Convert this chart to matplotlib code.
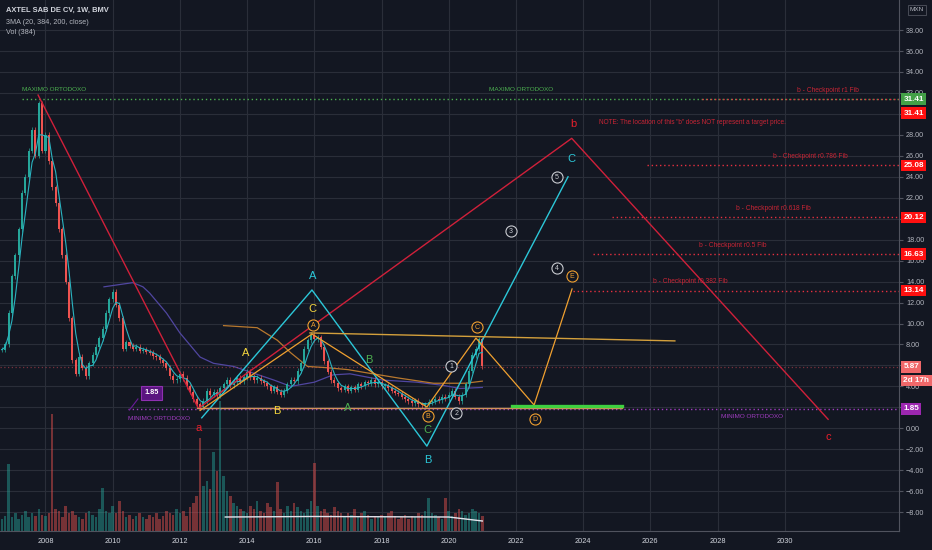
import matplotlib
matplotlib.use("Agg")
import matplotlib.pyplot as plt
import matplotlib.transforms as mtransforms
import numpy as np
import pandas as pd

plt.rcParams['font.family'] = ['Liberation Sans', 'DejaVu Sans']

# closes, one every 0.1 year from 2006.7 to 2021.0
start_year = 2006.7
closes = [
    7.5, 8.0, 11.0, 14.5, 16.5, 19.0, 22.5, 24.0, 26.5, 28.5, 26.0, 31.0, 26.5,
    28.0, 25.5, 23.0, 21.5, 19.0, 16.5, 14.0, 10.5, 6.5, 5.2,
    6.8, 5.8, 5.0, 6.2, 7.0, 7.8, 8.6, 9.5, 11.0, 12.3,
    13.0, 11.8, 10.5, 7.6, 8.2, 7.9, 7.6, 7.8, 7.4, 7.5,
    7.3, 7.2, 6.9, 6.8, 6.5, 6.2, 5.8, 5.0, 4.6, 4.7,
    5.2, 4.8, 4.0, 3.5, 2.8, 2.3, 2.0, 2.6, 3.6, 3.2,
    3.5, 3.1, 3.8, 4.2, 4.6, 4.1, 4.4, 4.8, 4.5, 4.9,
    5.4, 4.9, 4.6, 4.8, 4.5, 4.3, 4.0, 3.6, 3.9, 3.5,
    3.2, 3.6, 4.2, 4.6, 4.5, 5.5, 6.2, 7.6, 8.4, 8.9,
    8.5, 8.7, 7.8, 6.4, 5.4, 4.6, 4.3, 3.8, 3.7, 4.0,
    3.6, 3.9, 3.7, 4.2, 4.0, 4.4, 4.3, 4.6, 4.2, 4.4,
    4.0, 4.1, 3.8, 3.6, 3.4, 3.3, 3.0, 2.8, 2.6, 2.4,
    2.6, 2.3, 2.2, 2.3, 2.5, 2.6, 2.8, 2.7, 3.0, 2.9,
    3.2, 3.6, 3.0, 2.6, 3.2, 4.2, 5.5, 7.0, 7.6, 8.5,
    5.9,
]
volumes = [
    12, 15, 67, 14, 18, 12, 16, 20, 14, 18, 15, 22, 16,
    15, 18, 117, 22, 20, 14, 25, 18, 20, 16,
    14, 12, 18, 20, 16, 14, 22, 43, 20, 18,
    25, 18, 30, 20, 14, 16, 12, 15, 18, 14,
    12, 16, 14, 18, 12, 15, 20, 18, 16, 22,
    18, 20, 15, 24, 28, 35, 93, 45, 50, 42,
    79, 60, 130, 55, 40, 35, 28, 25, 22, 20,
    18, 25, 22, 30, 20, 18, 28, 24, 20, 49,
    22, 18, 25, 20, 28, 24, 20, 18, 22, 30,
    68, 25, 20, 22, 18, 16, 24, 20, 18, 15,
    18, 16, 22, 14, 18, 20, 16, 12, 15, 14,
    16, 14, 18, 20, 15, 12, 14, 16, 12, 15,
    14, 18, 16, 20, 33, 18, 16, 14, 12, 33,
    20, 15, 18, 22, 20, 16, 18, 22, 20, 18,
    15,
]

# moving averages
ma_long_years = [2009.74, 2010.6, 2010.9, 2011.1, 2011.6, 2012.0, 2012.6, 2013.0, 2013.6,
                 2014.8, 2015.3, 2016.0, 2016.56, 2017.06, 2018.04, 2019.05, 2019.83,
                 2020.34, 2021.0]
ma_long = [13.5, 13.9, 13.5, 12.9, 11.0, 9.1, 6.8, 6.2, 5.9, 4.6, 4.0, 4.4, 5.1, 5.2,
           4.6, 4.4, 4.1, 3.8, 3.9]
ma_mid_years = [2013.3, 2014.3, 2014.9, 2015.3, 2015.8, 2016.3, 2017.0, 2017.55, 2018.5,
                2019.55, 2020.5, 2021.0]
ma_mid = [9.8, 9.6, 8.4, 7.2, 5.9, 5.8, 5.6, 5.3, 4.8, 4.3, 4.3, 4.5]
vol_ma_years = [2013.35, 2016.0, 2020.0, 2021.0]
vol_ma = [14, 14.5, 14, 10]

# wave drawings (year, price)
red_wave = [(2007.78, 31.8), (2012.55, 1.9), (2023.66, 27.67), (2031.29, 0.86)]
cyan_wave = [(2012.65, 1.0), (2015.93, 13.2), (2019.35, -1.7), (2023.55, 24.0)]
orange_wave = [(2012.6, 1.7), (2015.93, 9.0), (2019.35, 2.03), (2020.81, 8.61),
               (2022.54, 2.22), (2023.67, 13.3)]
upper_trend = [(2015.87, 9.1), (2026.73, 8.34)]
lower_trend = [(2012.5, 1.94), (2025.16, 1.94)]
green_zone = [(2021.88, 2.13), (2025.16, 2.13)]

# checkpoint levels: value, line start year, label, label centre year
fib_levels = [31.41, 25.08, 20.12, 16.63, 13.14]
fib_starts = [2027.54, 2025.9, 2024.86, 2024.3, 2023.7]
fib_names = ['b - Checkpoint r1 Fib', 'b - Checkpoint r0.786 Fib', 'b - Checkpoint r0.618 Fib',
             'b - Checkpoint r0.5 Fib', 'b - Checkpoint r0.382 Fib']
fib_label_x = [2031.3, 2030.75, 2029.65, 2028.45, 2027.2]
max_level = 31.41
min_level = 1.85
last_price = 5.87

BG = '#131722'
GRID = '#2a2e39'
TXT = '#b2b5be'
UP = '#26a69a'
DOWN = '#ef5350'
RED = '#d0203a'
CYAN = '#2cc7d8'
ORANGE = '#f0a030'
YELLOW = '#f5d63d'
GREEN = '#4caf50'
PURPLE = '#a03cc0'

fig = plt.figure(figsize=(9.32, 5.5), dpi=100, facecolor=BG)
ax = fig.add_axes([0, 19 / 550, 899 / 932, 531 / 550])
ax.set_facecolor(BG)
ax.set_xlim(2006.646, 2033.40)
ax.set_ylim(-9.80, 40.87)

# volume pane (made first: twinx moves the price ticks to the left)
axv = ax.twinx()
axv.set_ylim(0, 531)
axv.axis('off')

years = start_year + 0.1 * np.arange(len(closes))
c = np.array(closes)
o = np.r_[c[0], c[:-1]]
up = c >= o

# grid and axes
ax.set_xticks(np.arange(2008, 2031, 2))
ax.set_xticklabels([str(y) for y in range(2008, 2031, 2)])
ax.set_yticks(np.arange(-8, 39, 2))
ax.set_yticklabels([f'{v:.2f}'.replace('-', '\u2212') for v in np.arange(-8, 39, 2)])
ax.grid(color=GRID, lw=0.8)
ax.yaxis.tick_right()
ax.yaxis.set_label_position('right')
ax.tick_params(axis='y', colors='#50535e', labelcolor=TXT, labelsize=5.2, length=3, pad=2)
ax.tick_params(axis='x', colors=BG, labelcolor='#d1d4dc', labelsize=5.3, length=0, pad=5)
for s in ['top', 'left']:
    ax.spines[s].set_visible(False)
for s in ['right', 'bottom']:
    ax.spines[s].set_color('#50535e')
    ax.spines[s].set_linewidth(0.8)

vol_cols = np.where(up, UP, DOWN)
axv.bar(years, volumes, width=0.075, color=vol_cols, alpha=0.45, lw=0)
axv.plot(vol_ma_years, vol_ma, color='#e0e3eb', lw=1)

# candles
ax.vlines(years, np.minimum(o, c) - 0.25, np.maximum(o, c) + 0.25, color=vol_cols, lw=0.5, zorder=3)
ax.bar(years, np.maximum(np.abs(c - o), 0.1), bottom=np.minimum(o, c), width=0.06,
       color=vol_cols, lw=0, zorder=3)
ma_fast = pd.Series(closes).rolling(4, min_periods=1).mean()
ax.plot(years, ma_fast, color='#2ab3c0', lw=0.8, zorder=4)
ax.plot(ma_long_years, ma_long, color='#5046a0', lw=0.9, zorder=2)
ax.plot(ma_mid_years, ma_mid, color='#b8782e', lw=0.9, zorder=2)

# horizontal levels
dot = (0, (1, 2))
ax.plot([2007.3, 2033.4], [max_level] * 2, color=GREEN, lw=1, ls=dot, zorder=2)
ax.plot([2010.46, 2033.4], [min_level] * 2, color=PURPLE, lw=1, ls=dot, zorder=2)
ax.axhline(last_price, color='#f7525f', lw=0.9, ls=dot, alpha=0.45, zorder=2)
for lvl, x0, name, lx in zip(fib_levels, fib_starts, fib_names, fib_label_x):
    ax.plot([x0, 2033.4], [lvl, lvl], color='#e53040', lw=1, ls=dot, zorder=2)
    ax.text(lx, lvl + 0.85, name, color='#c82535', fontsize=4.8, ha='center', va='center')

ax.text(2007.3, 32.35, 'MAXIMO ORTODOXO', color=GREEN, fontsize=4.6, ha='left', va='center')
ax.text(2021.2, 32.35, 'MAXIMO ORTODOXO', color=GREEN, fontsize=4.6, ha='left', va='center')
ax.text(2010.46, 0.9, 'MINIMO ORTODOXO', color=PURPLE, fontsize=4.6, ha='left', va='center')
ax.text(2028.1, 1.1, 'MINIMO ORTODOXO', color=PURPLE, fontsize=4.6, ha='left', va='center')
ax.text(2024.47, 29.2, 'NOTE: The location of this "b" does NOT represent a target price.',
        color='#c82535', fontsize=4.7, ha='left', va='center')

# wave lines
def path(pts, **kw):
    xs, ys = zip(*pts)
    ax.plot(xs, ys, **kw)

path(red_wave, color=RED, lw=1, zorder=5)
path(cyan_wave, color=CYAN, lw=1, zorder=5)
path(orange_wave, color=ORANGE, lw=0.9, zorder=5)
path(upper_trend, color='#d4a03c', lw=1, zorder=5)
path(lower_trend, color='#d4915a', lw=1, zorder=5)
path(green_zone, color='#3fd040', lw=2.4, zorder=5)

# wave letters
def letter(x, y, s, col, size=8):
    ax.text(x, y, s, color=col, fontsize=size, ha='center', va='center', zorder=6)

letter(2012.57, 0.0, 'a', '#e8202c')
letter(2023.7, 29.0, 'b', '#e8202c')
letter(2031.29, -0.83, 'c', '#e8202c')
letter(2015.96, 14.5, 'A', CYAN)
letter(2019.38, -3.0, 'B', CYAN)
letter(2023.64, 25.7, 'C', CYAN)
letter(2013.97, 7.2, 'A', YELLOW)
letter(2014.89, 1.65, 'B', YELLOW)
letter(2015.93, 11.4, 'C', YELLOW)
letter(2017.0, 1.94, 'A', GREEN)
letter(2017.63, 6.5, 'B', GREEN)
letter(2019.38, -0.17, 'C', GREEN)

def circled(x, y, s, col):
    ax.plot(x, y, 'o', ms=8, mfc=BG, mec=col, mew=0.8, zorder=6)
    ax.text(x, y - 0.05, s, color=col, fontsize=5, ha='center', va='center', zorder=7)

for (x, y), s in zip([(2015.96, 9.86), (2019.38, 1.17), (2020.84, 9.67), (2022.57, 0.89),
                      (2023.67, 14.55)], 'ABCDE'):
    circled(x, y, s, ORANGE)
for (x, y), s in zip([(2020.07, 5.94), (2020.22, 1.46), (2021.85, 18.8), (2023.22, 15.3),
                      (2023.22, 24.0)], '12345'):
    circled(x, y, s, '#c8cad0')

# 1.85 callout
ax.plot([2010.5, 2010.75], [1.75, 2.8], color='#6a1b9a', lw=0.8)
ax.text(2011.15, 3.37, '1.85', color='white', fontsize=5.2, fontweight='bold', ha='center',
        va='center', bbox=dict(boxstyle='square,pad=0.45', fc='#5a1580', ec='#8e30b0', lw=0.8))

# price tags on the scale, drawn over the tick labels they cover
tr = mtransforms.blended_transform_factory(ax.transAxes, ax.transData)
def tag(v, s, col, dy=0, tcol='white'):
    ax.annotate(s, xy=(1.0, v), xycoords=tr, xytext=(3.2, -dy), textcoords='offset points',
                ha='left', va='center', fontsize=5.9, color=tcol, fontweight='bold',
                annotation_clip=False, zorder=10,
                bbox=dict(boxstyle='square,pad=0.28', fc=col, ec='none'))

tag(max_level, '31.41', '#43a047')
tag(fib_levels[0], '31.41', '#ff1010', dy=10)
for lvl in fib_levels[1:]:
    tag(lvl, f'{lvl:.2f}', '#ff1010')
tag(last_price, '5.87', '#f0686a')
tag(last_price, '2d 17h', '#f0686a', dy=10)
tag(min_level, '1.85', '#9c27b0')

# header
fig.text(0.006, 0.982, 'AXTEL SAB DE CV, 1W, BMV', color='#d1d4dc', fontsize=5.4,
         fontweight='bold', ha='left', va='center')
fig.text(0.006, 0.96, '3MA (20, 384, 200, close)', color=TXT, fontsize=5.2, ha='left', va='center')
fig.text(0.006, 0.94, 'Vol (384)', color=TXT, fontsize=5.2, ha='left', va='center')
fig.text(0.984, 0.982, 'MXN', color=TXT, fontsize=4.6, ha='center', va='center',
         bbox=dict(boxstyle='square,pad=0.35', fc=BG, ec='#50535e', lw=0.6))

fig.savefig('out.png', dpi=100, facecolor=BG)
